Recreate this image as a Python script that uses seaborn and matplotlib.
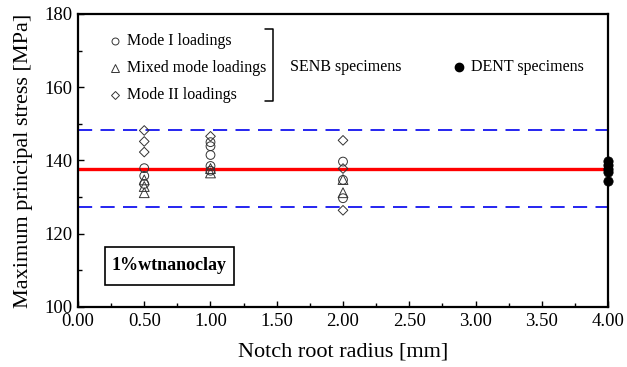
import matplotlib
matplotlib.use("Agg")
import matplotlib.pyplot as plt
from matplotlib.patches import Rectangle
from matplotlib.ticker import MultipleLocator, FormatStrFormatter
import seaborn as sns
import pandas as pd

# Maximum principal stress [MPa] at each notch root radius [mm]
mode1_radius = [0.5, 0.5, 0.5, 1.0, 1.0, 1.0, 1.0, 1.0, 2.0, 2.0, 2.0]
mode1_stress = [137.9, 135.8, 133.6, 145.0, 143.9, 141.5, 138.5, 137.2, 139.7, 134.7, 129.7]

mixed_radius = [0.5, 0.5, 0.5, 1.0, 1.0, 2.0, 2.0]
mixed_stress = [134.7, 132.9, 131.2, 137.8, 136.6, 134.8, 131.2]

mode2_radius = [0.5, 0.5, 0.5, 1.0, 2.0, 2.0, 2.0]
mode2_stress = [148.2, 145.2, 142.3, 146.6, 145.5, 137.8, 126.4]

dent_radius = [4.0, 4.0, 4.0, 4.0, 4.0]
dent_stress = [139.9, 138.9, 137.8, 136.8, 134.4]

mean_stress = 137.7
upper_band = 148.2
lower_band = 127.3

x_ticks = [0.0, 0.5, 1.0, 1.5, 2.0, 2.5, 3.0, 3.5, 4.0]
y_ticks = [100, 120, 140, 160, 180]

sns.set_theme(style="white")
plt.rcParams["font.family"] = ["Liberation Serif", "DejaVu Serif"]

fig = plt.figure(figsize=(6.27, 3.67), dpi=100)
ax = fig.add_axes([0.1244, 0.1635, 0.8453, 0.7984])

ax.axhline(mean_stress, color="#ff0000", lw=2.4, zorder=1)
ax.axhline(upper_band, color="#0000ee", lw=1.2, dashes=(8.5, 5), zorder=1)
ax.axhline(lower_band, color="#0000ee", lw=1.2, dashes=(8.5, 5), zorder=1)

series = [
    (mode1_radius, mode1_stress, "o", 40),
    (mixed_radius, mixed_stress, "^", 50),
    (mode2_radius, mode2_stress, "D", 24),
]
for xs, ys, mk, sz in series:
    df = pd.DataFrame({"radius": xs, "stress": ys})
    sns.scatterplot(data=df, x="radius", y="stress", marker=mk, s=sz,
                    facecolor="none", edgecolor="#333333", linewidth=0.7,
                    ax=ax, zorder=3, legend=False)

dent_df = pd.DataFrame({"radius": dent_radius, "stress": dent_stress})
sns.scatterplot(data=dent_df, x="radius", y="stress", marker="o", s=45,
                color="black", edgecolor="black", linewidth=0.5,
                ax=ax, zorder=4, legend=False, clip_on=False)

ax.set_xlim(0, 4)
ax.set_ylim(100, 180)
ax.set_xticks(x_ticks)
ax.set_yticks(y_ticks)
ax.xaxis.set_major_formatter(FormatStrFormatter("%.2f"))
ax.xaxis.set_minor_locator(MultipleLocator(0.25))
ax.yaxis.set_minor_locator(MultipleLocator(10))
ax.tick_params(axis="both", which="both", direction="in", labelsize=13.5,
               colors="black")
ax.tick_params(axis="x", which="major", pad=4)
ax.tick_params(axis="y", which="major", pad=4)
ax.tick_params(axis="both", which="major", length=4, width=1)
ax.tick_params(axis="both", which="minor", length=3, width=1)
ax.tick_params(axis="x", which="both", bottom=True)
ax.tick_params(axis="y", which="both", left=True)
for sp in ax.spines.values():
    sp.set_color("black")
    sp.set_linewidth(1.6)

ax.set_xlabel("Notch root radius [mm]", fontsize=16, color="black", labelpad=9)
ax.set_ylabel("Maximum principal stress [MPa]", fontsize=16, color="black", labelpad=8)


def px_to_axes(px, py):
    """Convert figure pixel position (from top-left) to axes fraction."""
    inv = ax.transAxes.inverted()
    return inv.transform((px, fig.bbox.height - py))


# Hand-built key: loading modes, bracket, specimen types
legend_rows = [("o", "Mode I loadings", 41, 5), ("^", "Mixed mode loadings", 68, 5.5),
               ("D", "Mode II loadings", 95, 3.8)]
for mk, label, py, ms in legend_rows:
    mx, my = px_to_axes(115, py)
    ax.plot([mx], [my], marker=mk, ms=ms, mfc="none",
            mec="#333333", mew=0.7, transform=ax.transAxes, clip_on=False)
    tx, ty = px_to_axes(127, py)
    ax.text(tx, ty, label, transform=ax.transAxes, fontsize=11.5,
            va="center", ha="left", color="black")

bx0, by0 = px_to_axes(265, 29)
bx1, by1 = px_to_axes(273, 101)
ax.plot([bx0, bx1, bx1, bx0], [by0, by0, by1, by1], color="black", lw=1.1,
        transform=ax.transAxes, clip_on=False)
sx, sy = px_to_axes(290, 67)
ax.text(sx, sy, "SENB specimens", transform=ax.transAxes, fontsize=11.5,
        va="center", ha="left", color="black")
dx, dy = px_to_axes(459, 67)
ax.plot([dx], [dy], marker="o", ms=6, color="black", transform=ax.transAxes)
tx, ty = px_to_axes(471, 67)
ax.text(tx, ty, "DENT specimens", transform=ax.transAxes, fontsize=11.5,
        va="center", ha="left", color="black")

# Material label in a framed box
rx0, ry0 = px_to_axes(105, 285)
rx1, ry1 = px_to_axes(234, 247)
ax.add_patch(Rectangle((rx0, ry0), rx1 - rx0, ry1 - ry0, transform=ax.transAxes,
                       fc="white", ec="black", lw=1.2, zorder=5))
ax.text((rx0 + rx1) / 2, (ry0 + ry1) / 2, "1%wtnanoclay", transform=ax.transAxes,
        fontsize=13, fontweight="bold", va="center", ha="center",
        color="black", zorder=6)

fig.savefig("out.png", dpi=100)
